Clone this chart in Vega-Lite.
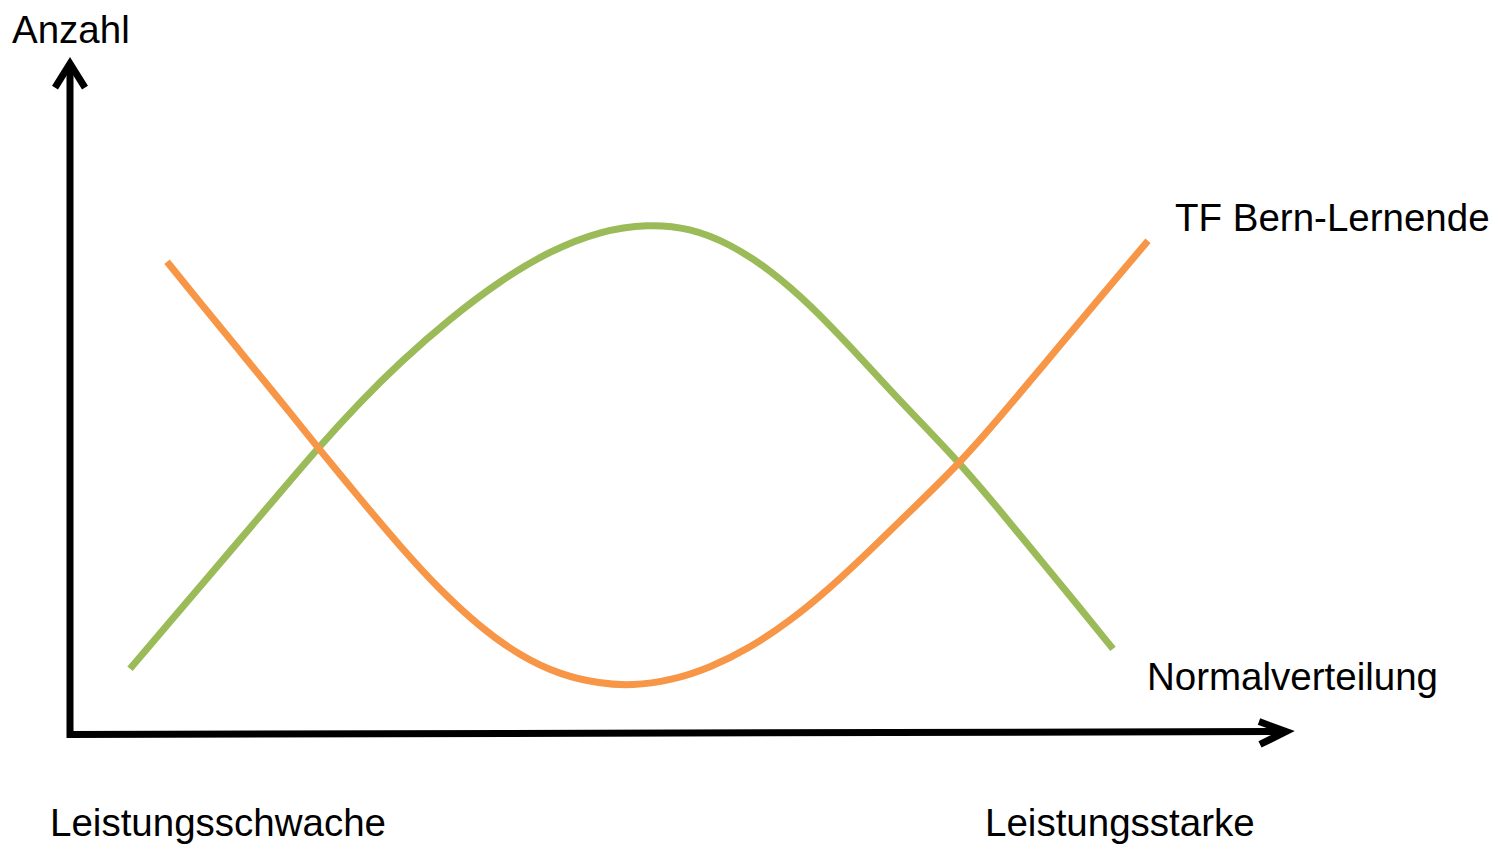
{
  "$schema": "https://vega.github.io/schema/vega-lite/v6.json",
  "width": 1495,
  "height": 844,
  "autosize": {"type": "fit", "contains": "padding"},
  "padding": 0,
  "background": "white",
  "config": {"view": {"stroke": null}},
  "datasets": {
    "curves": [
      {"serie": "Normalverteilung", "x": 6.0, "y": 6.6},
      {"serie": "Normalverteilung", "x": 11.0, "y": 12.5},
      {"serie": "Normalverteilung", "x": 16.0, "y": 18.4},
      {"serie": "Normalverteilung", "x": 21.0, "y": 24.3},
      {"serie": "Normalverteilung", "x": 24.8, "y": 28.8},
      {"serie": "Normalverteilung", "x": 29.0, "y": 33.4},
      {"serie": "Normalverteilung", "x": 33.0, "y": 37.4},
      {"serie": "Normalverteilung", "x": 38.0, "y": 41.8},
      {"serie": "Normalverteilung", "x": 43.0, "y": 45.6},
      {"serie": "Normalverteilung", "x": 48.0, "y": 48.6},
      {"serie": "Normalverteilung", "x": 53.0, "y": 50.6},
      {"serie": "Normalverteilung", "x": 57.8, "y": 51.3},
      {"serie": "Normalverteilung", "x": 62.0, "y": 50.9},
      {"serie": "Normalverteilung", "x": 66.0, "y": 49.3},
      {"serie": "Normalverteilung", "x": 70.0, "y": 46.7},
      {"serie": "Normalverteilung", "x": 74.0, "y": 43.2},
      {"serie": "Normalverteilung", "x": 78.0, "y": 39.0},
      {"serie": "Normalverteilung", "x": 82.0, "y": 34.6},
      {"serie": "Normalverteilung", "x": 86.0, "y": 30.4},
      {"serie": "Normalverteilung", "x": 89.2, "y": 27.0},
      {"serie": "Normalverteilung", "x": 93.0, "y": 22.5},
      {"serie": "Normalverteilung", "x": 97.0, "y": 17.6},
      {"serie": "Normalverteilung", "x": 101.0, "y": 12.7},
      {"serie": "Normalverteilung", "x": 104.3, "y": 8.6},
      {"serie": "TF Bern-Lernende", "x": 9.7, "y": 47.5},
      {"serie": "TF Bern-Lernende", "x": 13.0, "y": 43.4},
      {"serie": "TF Bern-Lernende", "x": 17.0, "y": 38.5},
      {"serie": "TF Bern-Lernende", "x": 21.0, "y": 33.6},
      {"serie": "TF Bern-Lernende", "x": 24.8, "y": 28.8},
      {"serie": "TF Bern-Lernende", "x": 29.0, "y": 23.7},
      {"serie": "TF Bern-Lernende", "x": 33.0, "y": 18.9},
      {"serie": "TF Bern-Lernende", "x": 37.0, "y": 14.5},
      {"serie": "TF Bern-Lernende", "x": 41.0, "y": 10.8},
      {"serie": "TF Bern-Lernende", "x": 45.0, "y": 7.9},
      {"serie": "TF Bern-Lernende", "x": 49.0, "y": 6.0},
      {"serie": "TF Bern-Lernende", "x": 53.0, "y": 5.1},
      {"serie": "TF Bern-Lernende", "x": 56.2, "y": 4.9},
      {"serie": "TF Bern-Lernende", "x": 60.0, "y": 5.4},
      {"serie": "TF Bern-Lernende", "x": 64.0, "y": 6.7},
      {"serie": "TF Bern-Lernende", "x": 68.0, "y": 8.7},
      {"serie": "TF Bern-Lernende", "x": 72.0, "y": 11.4},
      {"serie": "TF Bern-Lernende", "x": 76.0, "y": 14.7},
      {"serie": "TF Bern-Lernende", "x": 80.0, "y": 18.5},
      {"serie": "TF Bern-Lernende", "x": 84.0, "y": 22.4},
      {"serie": "TF Bern-Lernende", "x": 89.2, "y": 27.5},
      {"serie": "TF Bern-Lernende", "x": 93.0, "y": 31.9},
      {"serie": "TF Bern-Lernende", "x": 97.0, "y": 36.7},
      {"serie": "TF Bern-Lernende", "x": 101.0, "y": 41.5},
      {"serie": "TF Bern-Lernende", "x": 105.0, "y": 46.3},
      {"serie": "TF Bern-Lernende", "x": 107.8, "y": 49.6}
    ],
    "axes": [
      {"part": "axes", "o": 1, "x": 0, "y": 67.4},
      {"part": "axes", "o": 2, "x": 0, "y": 0},
      {"part": "axes", "o": 3, "x": 121.6, "y": 0.3},
      {"part": "yarrow", "o": 1, "x": -1.5, "y": 65.0},
      {"part": "yarrow", "o": 2, "x": 0, "y": 67.4},
      {"part": "yarrow", "o": 3, "x": 1.5, "y": 65.0},
      {"part": "xarrow", "o": 1, "x": 118.9, "y": 1.3},
      {"part": "xarrow", "o": 2, "x": 121.6, "y": 0.3},
      {"part": "xarrow", "o": 3, "x": 119.0, "y": -1.0}
    ],
    "labels": [
      {"label": "Anzahl", "x": -5.8, "y": 70.7},
      {"label": "TF Bern-Lernende", "x": 110.5, "y": 51.8},
      {"label": "Normalverteilung", "x": 107.7, "y": 5.7},
      {"label": "Leistungsschwache", "x": -2.0, "y": -9.0},
      {"label": "Leistungsstarke", "x": 91.5, "y": -9.0}
    ]
  },
  "layer": [
    {
      "data": {"name": "axes"},
      "mark": {"type": "line", "color": "black", "strokeWidth": 7, "strokeJoin": "miter", "strokeCap": "butt"},
      "encoding": {
        "x": {"field": "x", "type": "quantitative", "scale": {"domain": [-7, 142.5], "nice": false, "zero": false}, "axis": null},
        "y": {"field": "y", "type": "quantitative", "scale": {"domain": [-10.6, 73.8], "nice": false, "zero": false}, "axis": null},
        "detail": {"field": "part"},
        "order": {"field": "o"}
      }
    },
    {
      "data": {"name": "curves"},
      "mark": {"type": "line", "strokeWidth": 7, "interpolate": "basis", "strokeCap": "butt"},
      "encoding": {
        "x": {"field": "x", "type": "quantitative"},
        "y": {"field": "y", "type": "quantitative"},
        "color": {"field": "serie", "type": "nominal", "scale": {"domain": ["Normalverteilung", "TF Bern-Lernende"], "range": ["#9BBB59", "#F79646"]}, "legend": null}
      }
    },
    {
      "data": {"name": "labels"},
      "mark": {"type": "text", "align": "left", "baseline": "middle", "font": "Liberation Sans", "fontSize": 38.5, "color": "black"},
      "encoding": {
        "x": {"field": "x", "type": "quantitative"},
        "y": {"field": "y", "type": "quantitative"},
        "text": {"field": "label"}
      }
    }
  ]
}
